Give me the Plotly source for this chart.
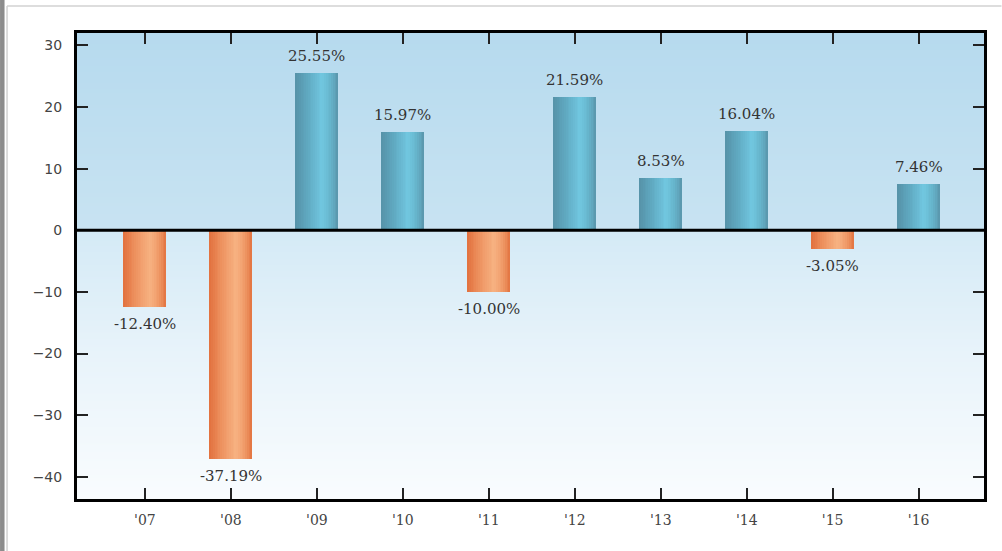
import numpy as np
import plotly.graph_objects as go

# Annual returns by year
years = ["'07", "'08", "'09", "'10", "'11", "'12", "'13", "'14", "'15", "'16"]
returns = [-12.40, -37.19, 25.55, 15.97, -10.00, 21.59, 8.53, 16.04, -3.05, 7.46]
y_ticks = [-40, -30, -20, -10, 0, 10, 20, 30]

W, H = 1002, 551
L, R, T, B = 77, 17.5, 33, 52
plot_w = W - L - R
plot_h = H - T - B
Y_RANGE = [-43.6, 32.0]
X_RANGE = [-0.79, 9.76]
BAR_W = 0.5


def hex_rgb(h):
    h = h.lstrip("#")
    return tuple(int(h[i:i + 2], 16) for i in (0, 2, 4))


def ramp(stops, t):
    for (p0, c0), (p1, c1) in zip(stops, stops[1:]):
        if p0 <= t <= p1:
            f = (t - p0) / (p1 - p0)
            a, b = hex_rgb(c0), hex_rgb(c1)
            return "rgb(%d,%d,%d)" % tuple(round(a[i] + (b[i] - a[i]) * f) for i in range(3))
    return "rgb(%d,%d,%d)" % hex_rgb(stops[-1][1])


# horizontal shading across each bar (left edge -> right edge)
blue_stops = [(0, "#5692a8"), (0.3, "#60aac2"), (0.62, "#71c7e0"), (0.82, "#66b4cb"), (1, "#5996ab")]
orange_stops = [(0, "#e2713e"), (0.3, "#ee9462"), (0.62, "#f7b282"), (0.82, "#f09a68"), (1, "#e27340")]

x_idx = list(range(len(years)))
fig = go.Figure()

# background wash behind the axes
bg_y = np.linspace(Y_RANGE[0] - 1, Y_RANGE[1] + 1, 300)
zn = lambda v: (v - Y_RANGE[0]) / (Y_RANGE[1] - Y_RANGE[0])
fig.add_trace(go.Heatmap(
    x=[X_RANGE[0] - 1, X_RANGE[1] + 1],
    y=bg_y,
    z=[[v, v] for v in bg_y],
    zmin=Y_RANGE[0], zmax=Y_RANGE[1],
    colorscale=[[0, "#f9fcfe"], [zn(-20), "#e8f3fa"], [zn(0) - 0.0005, "#d4eaf6"],
                [zn(0) + 0.0005, "#c8e3f2"], [1, "#b6daee"]],
    zsmooth="best", showscale=False, hoverinfo="skip",
))

# each bar is built from overlapping slices to give it a horizontal sheen
N = 24
for k in range(N):
    frac = (k + 0.5) / N
    colors = [ramp(blue_stops if v >= 0 else orange_stops, frac) for v in returns]
    fig.add_trace(go.Bar(
        x=x_idx, y=returns,
        offset=-BAR_W / 2 + k * BAR_W / N,
        width=BAR_W - k * BAR_W / N,
        marker=dict(color=colors, line=dict(width=0)),
        hoverinfo="skip", showlegend=False,
    ))

for i, v in enumerate(returns):
    fig.add_annotation(
        x=i, y=v, text=f"{v:.2f}%", showarrow=False,
        yshift=17 if v >= 0 else -17,
        font=dict(family="DejaVu Serif", size=15, color="#333333"),
    )

# zero baseline
fig.add_shape(type="line", xref="paper", x0=0, x1=1, yref="y", y0=0, y1=0,
              line=dict(color="black", width=3), layer="above")

# outer frame decoration
px = lambda p: (p - L) / plot_w
py = lambda p: (H - B - p) / plot_h
fig.add_shape(type="rect", xref="paper", yref="paper", x0=px(0), x1=px(4.5),
              y0=py(H), y1=py(0), fillcolor="#8c8c8c", line=dict(width=0), layer="above")
fig.add_shape(type="line", xref="paper", yref="paper", x0=px(7), x1=px(7),
              y0=py(H), y1=py(6), line=dict(color="#d2d2d2", width=1.5), layer="above")
fig.add_shape(type="line", xref="paper", yref="paper", x0=px(7), x1=px(W),
              y0=py(6), y1=py(6), line=dict(color="#d2d2d2", width=1.5), layer="above")

axis_common = dict(
    showline=True, linewidth=3, linecolor="black", mirror="ticks",
    ticks="inside", ticklen=11, tickwidth=2, tickcolor="#222222",
    showgrid=False, zeroline=False,
)
fig.update_xaxes(range=X_RANGE, tickvals=x_idx, ticktext=years,
                 tickfont=dict(family="DejaVu Serif", size=14, color="#444444"),
                 ticklabelstandoff=6, **axis_common)
fig.update_yaxes(range=Y_RANGE, tickvals=y_ticks,
                 tickfont=dict(family="DejaVu Sans", size=14, color="#444444"),
                 ticklabelstandoff=9, **axis_common)

fig.update_layout(
    width=W, height=H,
    margin=dict(l=L, r=R, t=T, b=B, pad=0),
    paper_bgcolor="white", plot_bgcolor="white",
    barmode="overlay", bargap=0, showlegend=False,
)

fig.write_html("out.html")
